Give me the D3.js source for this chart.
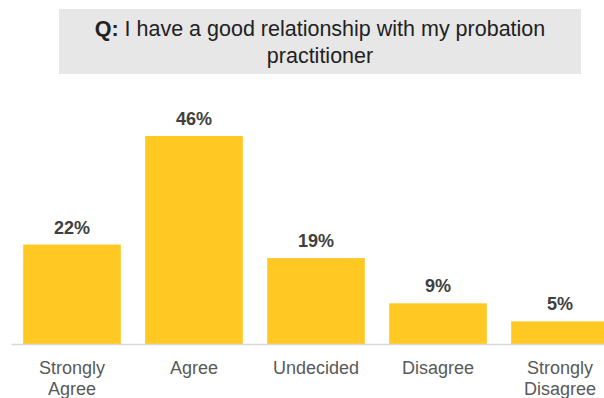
<!DOCTYPE html>
<html>
<head>
<meta charset="utf-8">
<script src="https://cdn.jsdelivr.net/npm/d3@7"></script>
<style>
  html, body { margin: 0; padding: 0; background: #fff; }
  svg { display: block; font-family: "Liberation Sans", Arial, sans-serif; }
</style>
</head>
<body>
<svg id="chart" width="604" height="398"></svg>
<script>
// Survey responses
const categories = ["Strongly Agree", "Agree", "Undecided", "Disagree", "Strongly Disagree"];
const values = [22, 46, 19, 9, 5];
const valueLabels = ["22%", "46%", "19%", "9%", "5%"];
const titleBold = "Q:";
const titleLine1 = " I have a good relationship with my probation";
const titleLine2 = "practitioner";

const svg = d3.select("#chart");
const baseline = 344;

const x = d3.scaleBand()
  .domain(categories)
  .range([11, 621])
  .paddingInner(0.2)
  .paddingOuter(0.1);

const y = d3.scaleLinear()
  .domain([0, 46])
  .range([baseline, 136]);

// Question header box
svg.append("rect")
  .attr("x", 59).attr("y", 9)
  .attr("width", 522).attr("height", 65)
  .attr("fill", "#e7e7e7");

const title = svg.append("text")
  .attr("text-anchor", "middle")
  .attr("font-size", 21.5)
  .attr("fill", "#222");
const t1 = title.append("tspan").attr("x", 320).attr("y", 36);
t1.append("tspan").attr("font-weight", "bold").text(titleBold);
t1.append("tspan").text(titleLine1);
title.append("tspan").attr("x", 320).attr("y", 63).text(titleLine2);

// Bars
svg.append("g")
  .selectAll("rect")
  .data(categories)
  .join("rect")
  .attr("x", d => x(d))
  .attr("y", (d, i) => y(values[i]))
  .attr("width", x.bandwidth())
  .attr("height", (d, i) => baseline - y(values[i]))
  .attr("fill", "#FFC823");

// Value labels
svg.append("g")
  .selectAll("text")
  .data(categories)
  .join("text")
  .attr("x", d => x(d) + x.bandwidth() / 2)
  .attr("y", (d, i) => y(values[i]) - 11)
  .attr("text-anchor", "middle")
  .attr("font-size", 18)
  .attr("font-weight", "bold")
  .attr("fill", "#404040")
  .text((d, i) => valueLabels[i]);

// Category axis
const axis = svg.append("g")
  .attr("transform", `translate(0,${baseline})`)
  .call(d3.axisBottom(x).tickSize(0).tickFormat(""));
axis.select(".domain").attr("stroke", "#d9d9d9").attr("stroke-width", 1.5);

// Wrapped category labels
axis.selectAll(".tick").each(function(d) {
  const words = d.split(" ");
  const t = d3.select(this).append("text")
    .attr("text-anchor", "middle")
    .attr("font-size", 18)
    .attr("fill", "#595959");
  words.forEach((w, i) => {
    t.append("tspan").attr("x", 0).attr("y", 30 + i * 21).text(w);
  });
});
</script>
</body>
</html>
